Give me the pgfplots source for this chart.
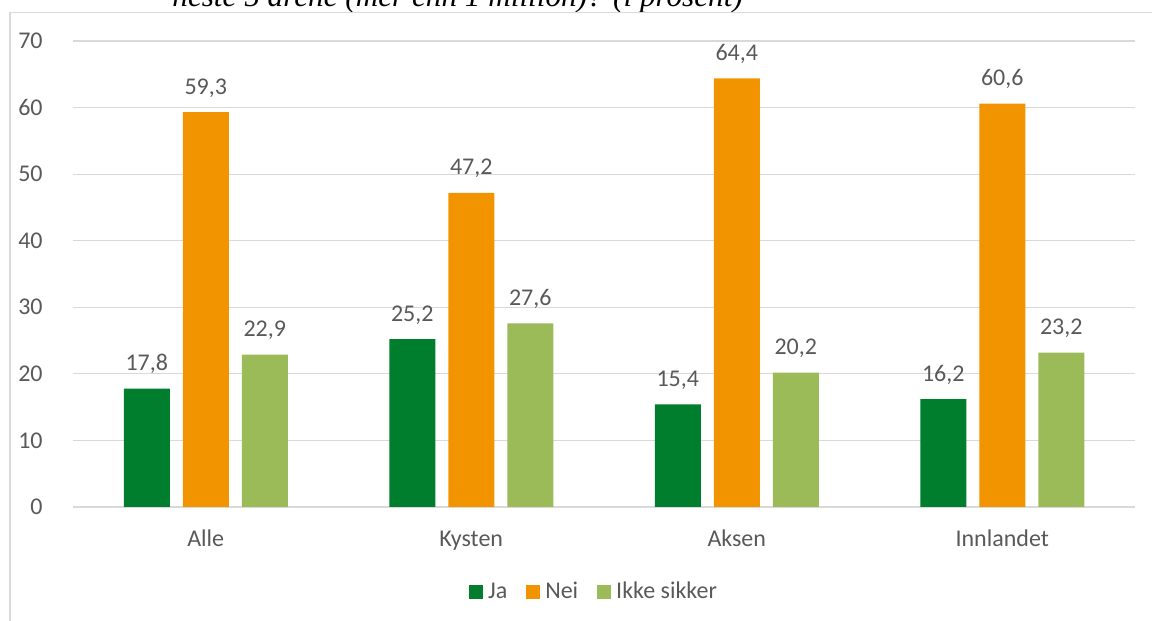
\documentclass[border=0pt]{standalone}
\usepackage{fontspec}
\setmainfont{Carlito}
\newfontfamily\titlefont{Liberation Serif}
\usepackage{pgfplots}
\pgfplotsset{compat=1.18}

\definecolor{ja}{HTML}{007E2D}
\definecolor{nei}{HTML}{F29400}
\definecolor{ikke}{HTML}{9BBB59}
\definecolor{txt}{HTML}{595959}
\definecolor{gridc}{HTML}{D9D9D9}

\begin{document}
\begin{tikzpicture}[x=0.5pt,y=0.5pt]
\useasboundingbox (0,0) rectangle (1152,621);
\clip (0,0) rectangle (1152,621);

% cut-off title and chart area frame
\node[anchor=base west, inner sep=0] at (172,614.5)
  {\titlefont\itshape\fontsize{15.6}{18}\selectfont neste 5 årene (mer enn 1 million)? (i prosent)};
\draw[gridc, line width=0.6pt] (10,0) -- (10,608.7) -- (1152,608.7);

\begin{axis}[
    at={(36.5pt,57pt)}, anchor=south west,
    scale only axis,
    width=531pt, height=233pt,
    ybar=6.5pt, bar width=23pt,
    xmin=-0.5, xmax=3.5,
    ymin=0, ymax=70,
    ytick={0,10,...,70},
    xtick={0,1,2,3},
    xticklabels={Alle,Kysten,Aksen,Innlandet},
    axis line style={draw=none},
    major tick length=0pt,
    ymajorgrids,
    grid style={draw=gridc, line width=0.6pt},
    font=\fontsize{12}{14}\selectfont,
    ticklabel style={text=txt},
    yticklabel style={anchor=east, inner sep=0pt, xshift=-15pt},
    xticklabel style={anchor=base, inner sep=0pt, yshift=-20pt},
    /pgf/number format/assume math mode=true,
    /pgf/number format/use comma,
    nodes near coords={\pgfmathprintnumber[fixed,fixed zerofill,precision=1]{\pgfplotspointmeta}},
    every node near coord/.append style={anchor=base, inner sep=0pt, yshift=9pt, text=txt},
    legend columns=3,
    legend style={
        at={(0.492,-0.182)}, anchor=center,
        draw=none, fill=none,
        text=txt,
        /tikz/every even column/.append style={column sep=7pt},
        nodes={inner sep=2.5pt}
    },
    legend image code/.code={\fill[#1] (0pt,-3.5pt) rectangle (7pt,3.5pt);},
]
\addplot[fill=ja, draw=none] coordinates {(0,17.8) (1,25.2) (2,15.4) (3,16.2)};
\addlegendentry{Ja}
\addplot[fill=nei, draw=none] coordinates {(0,59.3) (1,47.2) (2,64.4) (3,60.6)};
\addlegendentry{Nei}
\addplot[fill=ikke, draw=none] coordinates {(0,22.9) (1,27.6) (2,20.2) (3,23.2)};
\addlegendentry{Ikke sikker}
\end{axis}
\end{tikzpicture}
\end{document}
